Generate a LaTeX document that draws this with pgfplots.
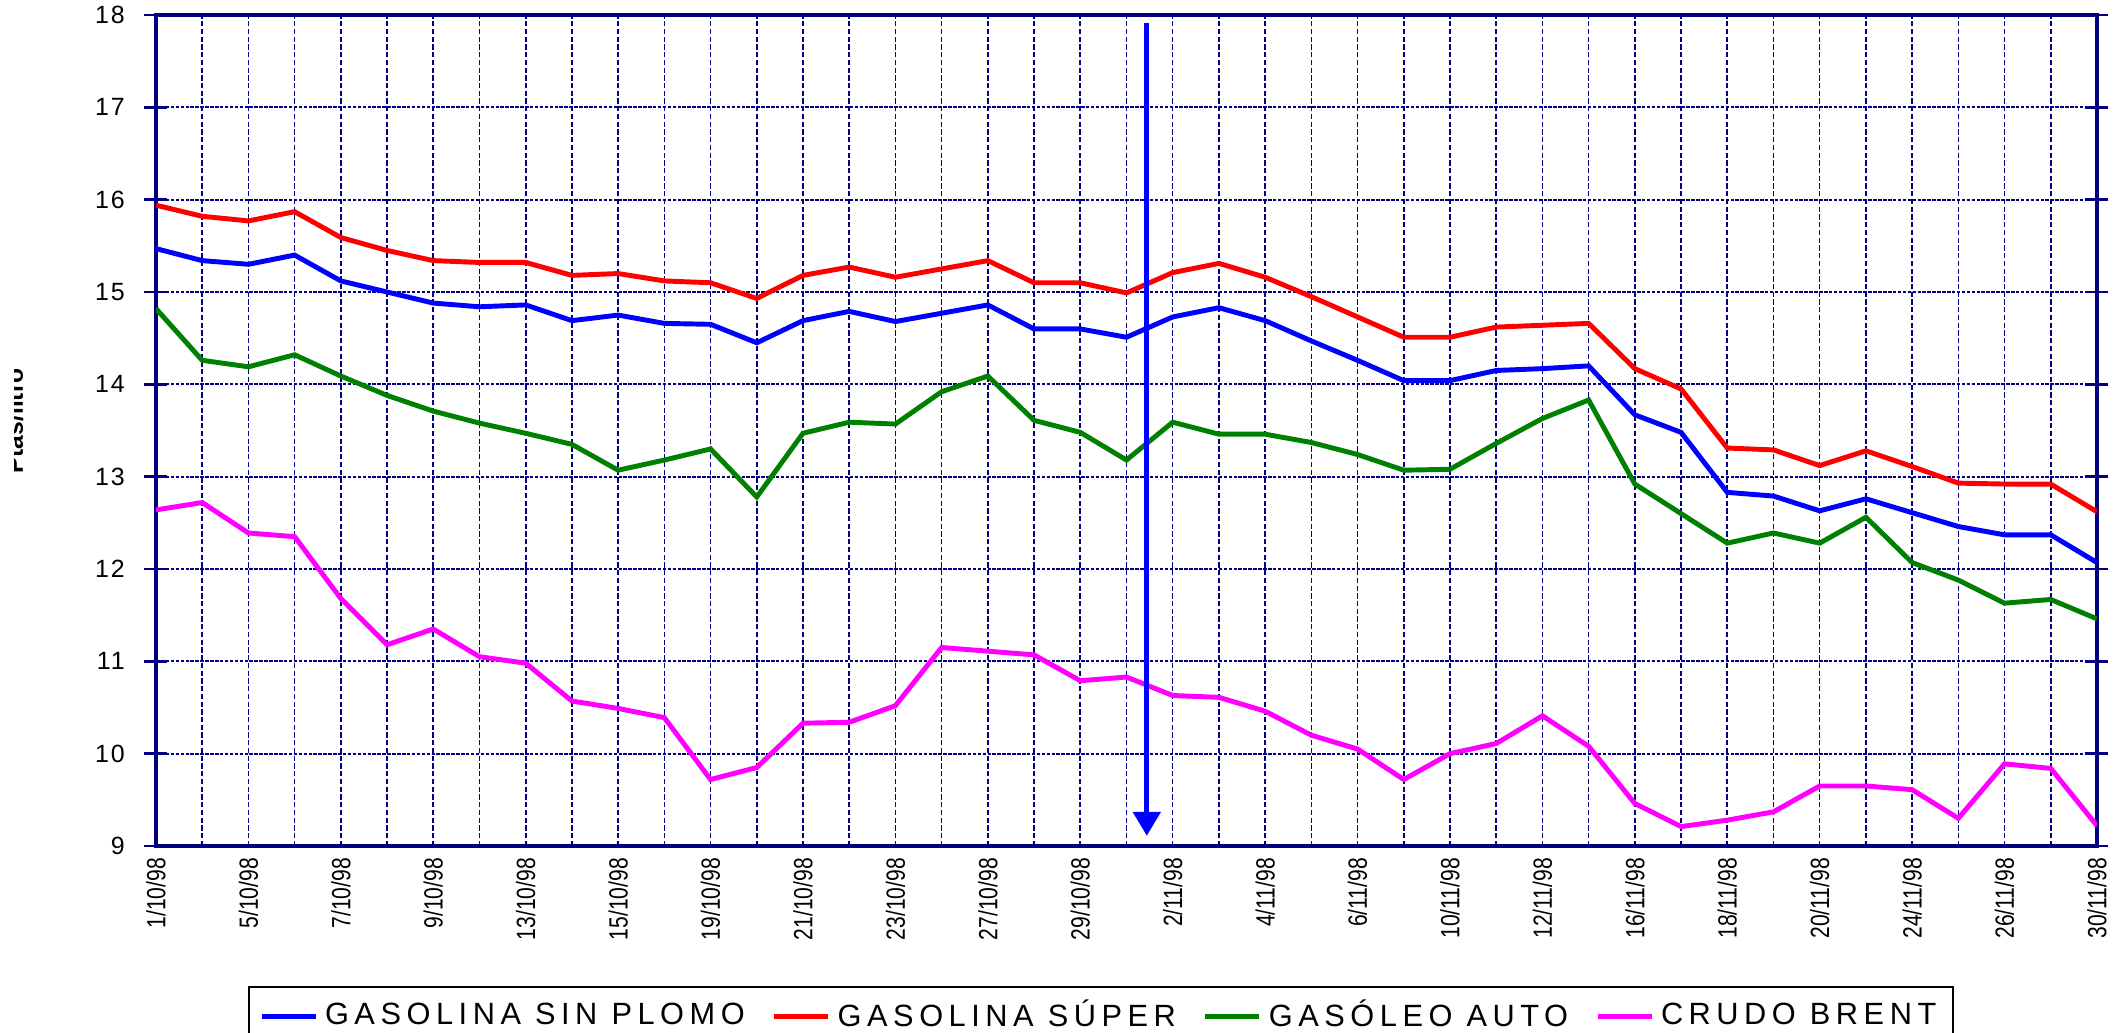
\documentclass[border=0pt]{standalone}
\usepackage{fontspec}
\setmainfont{Liberation Sans}
\newfontfamily\legendfont[LetterSpace=18]{Liberation Sans}
\newfontfamily\xfont[FakeStretch=0.8]{Liberation Sans}
\newfontfamily\yfont[LetterSpace=8]{Liberation Sans}
\usepackage{pgfplots}
\usepackage{pgfplotstable}
\pgfplotsset{compat=1.18}
\usetikzlibrary{arrows.meta}
\definecolor{navy}{RGB}{0,0,128}
\definecolor{dgreen}{RGB}{0,128,0}
\definecolor{pblue}{RGB}{0,0,255}
\definecolor{pred}{RGB}{255,0,0}
\definecolor{pmag}{RGB}{255,0,255}

\pgfplotstableread{
x sp super gasoleo brent
0 15.47 15.94 14.82 12.64
1 15.34 15.82 14.26 12.72
2 15.30 15.77 14.19 12.39
3 15.40 15.87 14.32 12.35
4 15.12 15.59 14.09 11.68
5 15.00 15.45 13.88 11.18
6 14.88 15.34 13.71 11.35
7 14.84 15.32 13.58 11.05
8 14.86 15.32 13.47 10.98
9 14.69 15.18 13.35 10.57
10 14.75 15.20 13.07 10.49
11 14.66 15.12 13.18 10.39
12 14.65 15.10 13.30 9.72
13 14.45 14.93 12.78 9.85
14 14.69 15.18 13.47 10.33
15 14.79 15.27 13.59 10.34
16 14.68 15.16 13.57 10.52
17 14.77 15.25 13.92 11.15
18 14.86 15.34 14.09 11.11
19 14.60 15.10 13.61 11.07
20 14.60 15.10 13.48 10.79
21 14.51 14.99 13.18 10.83
22 14.73 15.21 13.59 10.63
23 14.83 15.31 13.46 10.61
24 14.69 15.16 13.46 10.46
25 14.47 14.95 13.37 10.20
26 14.26 14.73 13.24 10.05
27 14.04 14.51 13.07 9.72
28 14.04 14.51 13.08 10.00
29 14.15 14.62 13.36 10.11
30 14.17 14.64 13.63 10.41
31 14.20 14.66 13.83 10.08
32 13.67 14.17 12.92 9.46
33 13.48 13.95 12.60 9.21
34 12.83 13.31 12.28 9.28
35 12.79 13.29 12.39 9.37
36 12.63 13.12 12.28 9.65
37 12.76 13.28 12.56 9.65
38 12.61 13.11 12.07 9.61
39 12.46 12.93 11.88 9.30
40 12.37 12.92 11.63 9.89
41 12.37 12.92 11.67 9.84
42 12.07 12.62 11.46 9.22
}\datatable

\begin{document}
\begin{tikzpicture}
\begin{axis}[
  scale only axis,
  width=19.41cm, height=8.31cm,
  xmin=0, xmax=42, ymin=9, ymax=18,
  ytick={9,...,18},
  xtick={0,2,...,42},
  minor xtick={0,...,42},
  xticklabels={1/10/98,5/10/98,7/10/98,9/10/98,13/10/98,15/10/98,19/10/98,21/10/98,23/10/98,27/10/98,29/10/98,2/11/98,4/11/98,6/11/98,10/11/98,12/11/98,16/11/98,18/11/98,20/11/98,24/11/98,26/11/98,30/11/98},
  /pgf/number format/assume math mode=true,
  ymajorgrids=true, xmajorgrids=false, xminorgrids=true,
  major grid style={navy, line width=0.65pt, dash pattern=on 1pt off 0.4pt},
  minor grid style={navy, line width=0.45pt, dash pattern=on 1.5pt off 0.7pt},
  axis line style={navy, line width=1pt},
  tick align=center,
  major tick length=0.23cm,
  minor tick length=0pt,
  xtick style={draw=none},
  ytick style={navy, line width=0.8pt},
  yticklabel style={font=\yfont\fontsize{7.1}{8}\selectfont, anchor=east, inner sep=0pt, xshift=-0.19cm},
  xticklabel style={font=\xfont\fontsize{7.5}{8}\selectfont, rotate=90, anchor=east, inner ysep=0pt, inner xsep=0pt},
  xticklabel shift=0cm,
  legend columns=4,
  legend style={at={(0.487,-0.1685)}, anchor=north, draw=black, line width=0.6pt,
    font=\legendfont\fontsize{8.75}{10}\selectfont, inner xsep=0.1cm, inner ysep=0.06cm,
    /tikz/every even column/.append style={column sep=0.2cm}},
  legend image code/.code={\draw[#1] (0cm,0cm) -- (0.54cm,0cm);},
]
\addplot[pblue, line width=1.4pt] table[x=x, y=sp] {\datatable};
\addlegendentry{GASOLINA SIN PLOMO}
\addplot[pred, line width=1.4pt] table[x=x, y=super] {\datatable};
\addlegendentry{GASOLINA SÚPER}
\addplot[dgreen, line width=1.4pt] table[x=x, y=gasoleo] {\datatable};
\addlegendentry{GASÓLEO AUTO}
\addplot[pmag, line width=1.4pt] table[x=x, y=brent] {\datatable};
\addlegendentry{CRUDO BRENT}
\addplot[pblue, line width=1.5pt, -{Triangle[width=0.27cm,length=0.24cm]}, forget plot] coordinates {(21.44,17.91) (21.44,9.11)};
\end{axis}
\begin{scope}
\clip (-1.41cm,0cm) rectangle (-0.5cm,8.31cm);
\node[rotate=90, anchor=base, inner sep=0pt, font=\bfseries\fontsize{7}{8}\selectfont] at (-1.33cm,4.25cm) {Ptas/litro};
\end{scope}
\pgfresetboundingbox
\path[use as bounding box] (-1.56cm,-1.87cm) rectangle (19.67cm,8.46cm);
\end{tikzpicture}
\end{document}
